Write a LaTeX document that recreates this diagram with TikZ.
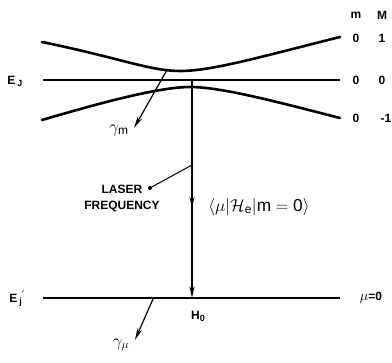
\documentclass[tikz,border=0pt]{standalone}
\usepackage{fontspec}
\setsansfont{Liberation Sans}
\usetikzlibrary{arrows.meta,decorations.markings}

\begin{document}
\begin{tikzpicture}[
    x=1pt, y=-1pt,
    level/.style={line width=1.4pt},
    split_level/.style={line width=2.6pt, line cap=round},
    arr/.style={-{Stealth[length=12pt,width=5pt]}, line width=1.2pt},
    mid_arr/.style={arr, decoration={markings,
        mark=at position 0.59 with {\arrow{Stealth[length=12pt,width=5pt]}}}, postaction={decorate}},
    lbl/.style={font=\sffamily\bfseries\fontsize{12}{16}\selectfont},
]
\useasboundingbox (0,0) rectangle (392,363);

% ===== Upper level E_J with its split curves =====
\coordinate (UL) at (42,42);
\coordinate (UR) at (340,37);
\coordinate (LL) at (42,120);
\coordinate (LR) at (340,118);
\coordinate (EL) at (43,80);
\coordinate (ER) at (340,80);
\coordinate (top) at (192,80);

\draw[split_level] (UL) .. controls (120,58) and (150,71) .. (180,71)
    .. controls (212,71) and (260,57) .. (UR);
\draw[split_level] (LL) .. controls (120,97) and (165,87) .. (190,87)
    .. controls (220,87) and (270,100) .. (LR);
\draw[level] (EL) -- (ER);

\node[lbl] (EJ) at (15,81) {E\,\raisebox{-2pt}{\small J}};

% m and M columns
\node[lbl] (mhead) at (356,15) {m};
\node[lbl] (Mhead) at (382,15) {M};
\node[lbl] (m1) at (356,38) {0};
\node[lbl] (M1) at (382,38) {1};
\node[lbl] (m2) at (356,80) {0};
\node[lbl] (M2) at (382,80) {0};
\node[lbl] (m3) at (356,118) {0};
\node[lbl] (M3) at (386,118) {-1};

% spontaneous decay of the m level
\coordinate (gm0) at (167,70);
\coordinate (gm1) at (134,128);
\draw[arr] (gm0) -- (gm1);
\node[font=\LARGE] (gm) at (119,130) {$\gamma_{\mathsf{m}}$};

% ===== Lower level E_J' =====
\coordinate (FL) at (43,298);
\coordinate (FR) at (340,298);
\coordinate (bot) at (192,298);
\draw[level] (FL) -- (FR);
\node[lbl] (EJp) at (17,298) {E\,\raisebox{-2pt}{\small j}\raisebox{5pt}{\small$'$}};
\node[lbl] (mu0) at (371,298) {{\Large$\mu$}=0};
\node[lbl] (H0) at (198,316) {H\raisebox{-2pt}{\small 0}};

% spontaneous decay of the mu level
\coordinate (gu0) at (153,299);
\coordinate (gu1) at (135,340);
\draw[arr] (gu0) -- (gu1);
\node[font=\LARGE] (gu) at (121,345) {$\gamma_{\mu}$};

% ===== Laser transition =====
\draw[mid_arr] (top) -- (bot);

\node[lbl, align=center] (laser) at (122,198) {LASER\\FREQUENCY};
\coordinate (ldot) at (150,188);
\coordinate (lhit) at (192,165);
\fill (ldot) circle (2pt);
\draw[line width=1pt] (ldot) -- (lhit);

\node[font=\LARGE] (melem) at (259,207)
    {$\Big\langle \mu \Big| \mathcal{H}_{\mathsf{e}} \Big| \mathsf{m=0} \Big\rangle$};

\end{tikzpicture}
\end{document}
